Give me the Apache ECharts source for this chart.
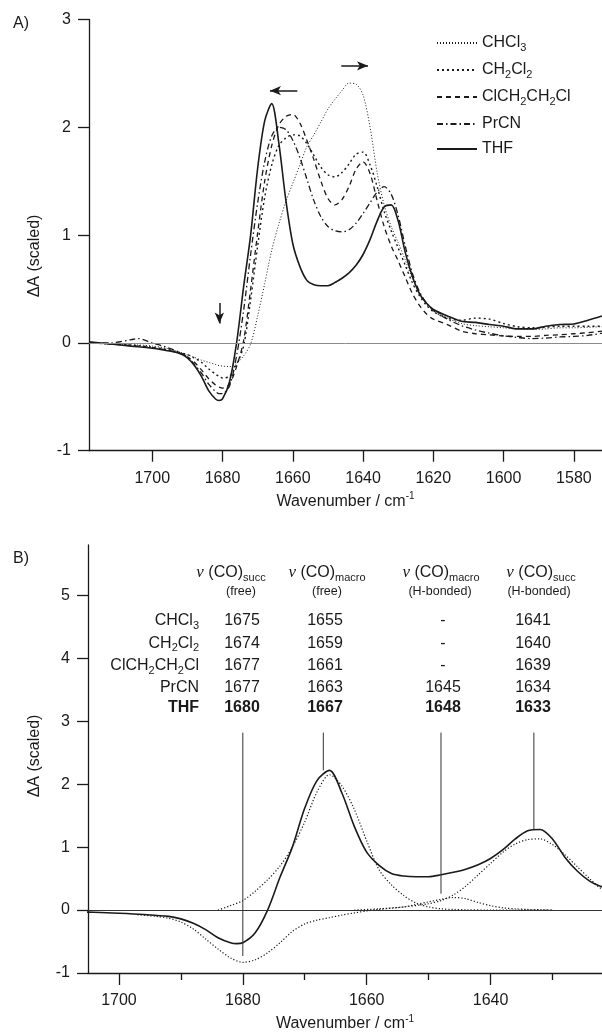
<!DOCTYPE html>
<html><head><meta charset="utf-8">
<script src="https://cdn.jsdelivr.net/npm/echarts@6/dist/echarts.min.js"></script>
<style>html,body{margin:0;padding:0;background:#fff}#c{width:602px;height:1033px}</style>
</head><body><div id="c"></div>
<script>
// ---------- Panel A data ----------
const wnA = [1718,1712,1706,1704,1700,1696,1692,1690,1688,1686,1684,1682,1681,1680,1678,1676,1674,1672,1670,1668,1666,1664,1662,1660,1658,1656,1654,1652,1650,1648,1646,1644,1642,1640,1638,1636,1634,1632,1630,1628,1626,1624,1622,1620,1616,1612,1608,1604,1600,1596,1592,1588,1584,1580,1576,1572];
const thf = [0.01,-0.01,-0.03,-0.035,-0.05,-0.07,-0.10,-0.14,-0.21,-0.31,-0.44,-0.52,-0.534,-0.52,-0.36,0.0,0.52,1.0,1.62,2.06,2.22,1.86,1.33,0.92,0.71,0.58,0.54,0.53,0.53,0.56,0.60,0.65,0.72,0.82,0.96,1.13,1.26,1.28,1.13,0.84,0.62,0.46,0.37,0.31,0.25,0.20,0.19,0.17,0.155,0.13,0.13,0.155,0.17,0.175,0.21,0.25];
const chcl3 = [0.0,-0.01,-0.02,-0.02,-0.03,-0.05,-0.09,-0.11,-0.135,-0.16,-0.18,-0.20,-0.21,-0.215,-0.22,-0.19,-0.12,-0.01,0.25,0.55,0.86,1.10,1.31,1.48,1.65,1.82,1.93,2.05,2.17,2.26,2.34,2.41,2.40,2.30,2.0,1.58,1.28,1.08,0.93,0.77,0.60,0.47,0.37,0.31,0.23,0.18,0.16,0.15,0.14,0.13,0.125,0.13,0.14,0.14,0.145,0.15];
const ch2cl2 = [0.0,-0.01,-0.02,-0.025,-0.04,-0.06,-0.09,-0.11,-0.14,-0.18,-0.24,-0.29,-0.31,-0.325,-0.31,-0.2,-0.03,0.4,0.9,1.35,1.65,1.83,1.9,1.93,1.92,1.85,1.74,1.63,1.56,1.54,1.58,1.66,1.75,1.77,1.65,1.45,1.22,1.04,0.88,0.72,0.56,0.44,0.35,0.29,0.23,0.21,0.23,0.22,0.18,0.15,0.14,0.145,0.155,0.155,0.155,0.155];
const dce = [0.0,-0.01,-0.025,-0.03,-0.045,-0.065,-0.1,-0.13,-0.18,-0.25,-0.33,-0.39,-0.41,-0.42,-0.38,-0.22,0.02,0.5,1.02,1.5,1.83,2.02,2.1,2.12,2.04,1.88,1.7,1.5,1.34,1.28,1.33,1.45,1.61,1.68,1.57,1.32,1.08,0.9,0.76,0.61,0.46,0.35,0.27,0.22,0.17,0.11,0.085,0.075,0.065,0.06,0.06,0.07,0.075,0.085,0.095,0.11];
const prcn = [0.0,0.0,0.03,0.04,0.0,-0.04,-0.09,-0.13,-0.2,-0.28,-0.38,-0.45,-0.47,-0.47,-0.4,-0.12,0.3,0.82,1.3,1.68,1.92,2.0,1.98,1.88,1.72,1.52,1.32,1.17,1.08,1.04,1.03,1.05,1.11,1.2,1.3,1.4,1.45,1.38,1.18,0.9,0.65,0.48,0.37,0.3,0.22,0.16,0.12,0.09,0.065,0.05,0.04,0.045,0.055,0.06,0.07,0.09];
const seriesNamesA = ['CHCl3','CH2Cl2','ClCH2CH2Cl','PrCN','THF'];
const xTicksA = [1700,1680,1660,1640,1620,1600,1580];
const yTicksA = [-1,0,1,2,3];

// ---------- Panel B data ----------
const wnBleach = [1697,1694,1692,1690,1688,1686,1684,1682,1680,1678,1676,1674,1672,1670,1668,1666,1664,1662,1660,1658,1656,1654,1652,1650,1648,1646,1644,1642,1640,1638,1636,1634,1632,1630];
const bleach = [-0.075,-0.1,-0.13,-0.19,-0.3,-0.46,-0.62,-0.76,-0.83,-0.79,-0.68,-0.52,-0.34,-0.22,-0.16,-0.12,-0.08,-0.045,-0.015,0.01,0.03,0.05,0.09,0.13,0.17,0.2,0.18,0.12,0.07,0.035,0.02,0.01,0.005,0.0];
const wnC1667 = [1684,1682,1680,1678,1676,1674,1672,1670,1668,1666,1664,1662,1660,1658,1656,1654,1652,1650,1648,1646,1644,1640,1636,1630];
const c1667 = [0.0,0.07,0.15,0.3,0.48,0.7,1.0,1.4,1.88,2.15,1.97,1.6,1.1,0.64,0.4,0.23,0.11,0.05,0.02,0.01,0.005,0.0,0.0,0.0];
const wnC1633 = [1662,1658,1654,1650,1648,1646,1644,1642,1640,1638,1636,1634,1632,1630,1628,1626,1624,1622,1620];
const c1633 = [0.0,0.02,0.05,0.1,0.15,0.24,0.38,0.56,0.74,0.92,1.05,1.12,1.13,1.04,0.88,0.69,0.5,0.33,0.25];
const markPos = [1680,1667,1648,1633];
const markBottom = [-0.73,2.22,0.26,1.27];
const markTop = 2.82;
const xTicksB = [1700,1680,1660,1640];
const xMinorB = [1690,1670,1650,1630];
const yTicksB = [-1,0,1,2,3,4,5];

// ---------- Table ----------
const tableSolvents = ['CHCl3','CH2Cl2','ClCH2CH2Cl','PrCN','THF'];
const succFree = ['1675','1674','1677','1677','1680'];
const macroFree = ['1655','1659','1661','1663','1667'];
const macroHB = ['-','-','-','1645','1648'];
const succHB = ['1641','1640','1639','1634','1633'];
const colHeads = [['succ','(free)'],['macro','(free)'],['macro','(H-bonded)'],['succ','(H-bonded)']];

const FONT = 'Liberation Sans, Arial, sans-serif';
const INK = '#1a1a1a';
const richName = {
  'CHCl3':'CHCl{s|3}', 'CH2Cl2':'CH{s|2}Cl{s|2}', 'ClCH2CH2Cl':'ClCH{s|2}CH{s|2}Cl', 'PrCN':'PrCN', 'THF':'THF'
};
const subRich = { s: { fontSize: 11, fontFamily: FONT, color: INK, padding: [9,0,0,0] } };

function pairs(xs, ys){ return xs.map((x,i)=>[x, ys[i]]); }
function lineSeries(name, xs, ys, dash, width, gi, extra){
  return Object.assign({
    type:'line', name, xAxisIndex: gi===0?0:1, yAxisIndex: gi,
    data: pairs(xs, ys), symbol:'none', showSymbol:false, smooth:0.3,
    color: INK, itemStyle:{ color: INK },
    lineStyle:{ color: INK, width, type: dash }, emphasis:{disabled:true}, silent:true, animation:false
  }, extra||{});
}

const series = [
  lineSeries('CHCl3', wnA, chcl3, [1,2], 1, 0, {
    markLine:{ silent:true, symbol:'none', animation:false, label:{show:false},
      lineStyle:{ color:'#8a8a8a', width:1, type:'solid' }, data:[{yAxis:0}] }
  }),
  lineSeries('CH2Cl2', wnA, ch2cl2, [2,3], 1.4, 0),
  lineSeries('ClCH2CH2Cl', wnA, dce, [5,4], 1.3, 0),
  lineSeries('PrCN', wnA, prcn, [6,3,1.5,3], 1.3, 0),
  lineSeries('THF', wnA, thf, 'solid', 1.6, 0, {
    markLine:{ silent:true, animation:false, symbol:['none','arrow'], symbolSize:[7,11], label:{show:false},
      lineStyle:{ color:INK, width:1.5, type:'solid' },
      data:[
        [{coord:[1658.7,2.34]},{coord:[1666.5,2.34]}],
        [{coord:[1646.2,2.57]},{coord:[1638.6,2.57]}],
        [{coord:[1680.9,0.37]},{coord:[1680.9,0.18]}]
      ] }
  }),
  // Panel B
  lineSeries('THF fit', wnA, thf, 'solid', 1.6, 1, {
    markLine:{ silent:true, symbol:'none', animation:false, label:{show:false},
      lineStyle:{ color:'#333', width:1, type:'solid' }, data:[{yAxis:0}] }
  }),
  lineSeries('bleach', wnBleach, bleach, [1.2,2], 1.2, 1),
  lineSeries('comp1667', wnC1667, c1667, [1.2,2], 1.2, 1),
  lineSeries('comp1633', wnC1633, c1633, [1.2,2], 1.2, 1)
];
markPos.forEach((p,i)=>{
  series.push(lineSeries('mark'+p, [p,p], [markTop, markBottom[i]], 'solid', 1, 1, {smooth:false, lineStyle:{color:'#333', width:1, type:'solid'}}));
});

function xAxisCfg(gi, min, max, ticks, tickLen, showLabels, nameOn){
  const a = {
    type:'value', gridIndex: gi, min, max, inverse:true, position:'bottom', offset:0,
    axisLine:{ show: true, onZero:false, lineStyle:{ color:INK, width:1.3 } },
    axisTick:{ show:true, inside:false, length:tickLen, customValues: ticks, lineStyle:{ color:INK, width:1.3 } },
    axisLabel:{ show: showLabels, customValues: ticks, fontSize:16, fontFamily:FONT, color:INK, margin:20,
      formatter: v => String(v) },
    splitLine:{ show:false }
  };
  if (nameOn) {
    a.name = 'Wavenumber / cm{sup|-1}';
    a.nameLocation = 'middle';
    a.nameGap = 41;
    a.nameTextStyle = { fontSize:16, fontFamily:FONT, color:INK,
      rich:{ sup:{ fontSize:10, fontFamily:FONT, color:INK, padding:[0,0,10,0] } } };
  }
  return a;
}
function yAxisCfg(gi, min, max, ticks){
  return {
    type:'value', gridIndex: gi, min, max,
    axisLine:{ show:true, onZero:false, lineStyle:{ color:INK, width:1.3 } },
    axisTick:{ show:true, inside:false, length:11, customValues: ticks, lineStyle:{ color:INK, width:1.3 } },
    axisLabel:{ customValues: ticks, fontSize:16, fontFamily:FONT, color:INK, margin:18, formatter: v => String(v) },
    splitLine:{ show:false }
  };
}

const xAxes = [
  xAxisCfg(0, 1572, 1718, xTicksA, 11, true, true),
  xAxisCfg(1, 1622, 1705, xTicksB, 12, true, true),
  Object.assign(xAxisCfg(1, 1622, 1705, xMinorB, 7, false, false), { axisLine:{show:false, onZero:false} })
];
const yAxes = [ yAxisCfg(0, -1, 3, yTicksA), yAxisCfg(1, -1, 5.8, yTicksB) ];

// graphic texts
const graphics = [];
function txt(x, y, text, opt){
  graphics.push({ type:'text', x, y, silent:true, style: Object.assign({
    text, fill: INK, fontSize:16, fontFamily:FONT, align:'left', verticalAlign:'middle'
  }, opt||{}) });
}
txt(13, 24, 'A)');
txt(13, 559, 'B)');
txt(35, 256, 'ΔA (scaled)', { align:'center' });
graphics[graphics.length-1].rotation = Math.PI/2;
txt(35, 756, 'ΔA (scaled)', { align:'center' });
graphics[graphics.length-1].rotation = Math.PI/2;

const headRich = {
  nu: { fontSize:17, fontFamily:'Liberation Serif, DejaVu Serif, serif', fontStyle:'italic', fill:INK, color:INK },
  t: { fontSize:16, fontFamily:FONT, color:INK },
  sub: { fontSize:11, fontFamily:FONT, color:INK, padding:[9,0,0,0] }
};
const headX = [231, 327, 441, 541];
const subX = [241, 327, 440, 539];
const numX = [242, 325, 443, 533];
const rowY = [621, 643.5, 666, 688, 708];
colHeads.forEach((h,i)=>{
  txt(headX[i], 573, '{nu|ν} {t|(CO)}{sub|'+h[0]+'}', { align:'center', rich: headRich });
  txt(subX[i], 592, h[1], { align:'center', fontSize:12.5 });
});
const cols = [succFree, macroFree, macroHB, succHB];
tableSolvents.forEach((s,r)=>{
  const bold = s === 'THF' ? 'bold' : 'normal';
  txt(199, rowY[r], richName[s], { align:'right', fontWeight: bold,
    rich:{ s:{ fontSize:11, fontFamily:FONT, color:INK, padding:[9,0,0,0] } } });
  cols.forEach((c,ci)=>{
    txt(numX[ci], rowY[r], c[r], { align:'center', fontWeight: bold });
  });
});

const chart = echarts.init(document.getElementById('c'), null, { renderer:'canvas' });
chart.setOption({
  animation:false,
  backgroundColor:'#fff',
  grid:[
    { left:89, right:0, top:19.5, height:431.2, containLabel:false },
    { left:88, right:0, top:545, height:432, containLabel:false }
  ],
  legend:{
    data: seriesNamesA, orient:'vertical', left:431, top:30,
    itemWidth:40, itemHeight:14, itemGap:9,
    itemStyle:{ opacity:0 },
    textStyle:{ fontSize:16, fontFamily:FONT, color:INK, rich: subRich },
    formatter: n => richName[n], selectedMode:false
  },
  xAxis: xAxes,
  yAxis: yAxes,
  series,
  graphic: graphics
});
</script></body></html>
